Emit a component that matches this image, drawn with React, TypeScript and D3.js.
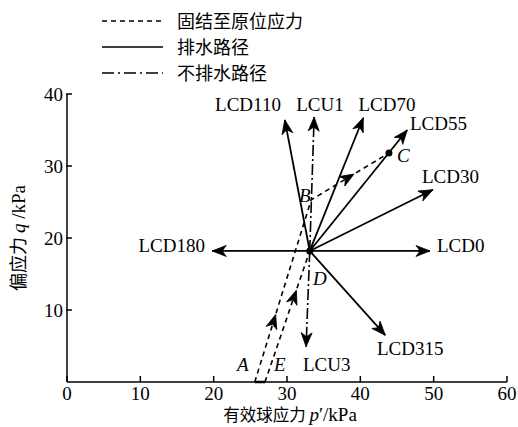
import * as d3 from "d3";

// stress state D, where the probing paths start
const startP = 33.1;
const startQ = 18.2;

// drained probing paths (solid)
const drainedNames = ["LCD0", "LCD30", "LCD55", "LCD70", "LCD110", "LCD180", "LCD315"];
const drainedEndP = [49.5, 49.9, 46.4, 40.4, 29.7, 19.8, 43.4];
const drainedEndQ = [18.2, 26.7, 35, 36.7, 36.4, 18.2, 6.5];

// undrained probing paths (dash-dot)
const undrainedNames = ["LCU1", "LCU3"];
const undrainedEndP = [33.7, 32.6];
const undrainedEndQ = [36.8, 4.9];

// consolidation to in-situ stress (dashed): A -> B -> C and E -> D
const consolABP = [25.6, 33.3, 43.9];
const consolABQ = [0, 25.3, 31.8];
const consolEDP = [27.0, 33.1];
const consolEDQ = [0, 18.2];

const xTicks = [0, 10, 20, 30, 40, 50, 60];
const yTicks = [10, 20, 30, 40];

const legendLabels = ["固结至原位应力", "排水路径", "不排水路径"];

const W = 518;
const H = 427;
const serif = "Liberation Serif, DejaVu Serif, serif";
const cjk = "Noto Sans CJK SC, sans-serif";

export default function App() {
  const x = d3.scaleLinear().domain([0, 60]).range([67, 507]);
  const y = d3.scaleLinear().domain([0, 40]).range([382, 94]);

  const dashed = "5,4";
  const dashDot = "11,3,2,3";

  const line = d3
    .line<[number, number]>()
    .x((d) => x(d[0]))
    .y((d) => y(d[1]));

  // arrowhead drawn at a point along a segment, pointing along it
  const head = (x0: number, y0: number, x1: number, y1: number, t = 1, key = "") => {
    const px = x0 + (x1 - x0) * t;
    const py = y0 + (y1 - y0) * t;
    const ang = (Math.atan2(y1 - y0, x1 - x0) * 180) / Math.PI;
    return (
      <path
        key={key}
        d="M0,0 L-14,-5.5 L-10,0 L-14,5.5 Z"
        fill="#000"
        stroke="#000"
        strokeWidth={0.8}
        transform={`translate(${px},${py}) rotate(${ang})`}
      />
    );
  };

  const drainedLabelPos: Record<string, [number, number, string]> = {
    LCD0: [437, 252, "start"],
    LCD30: [422, 183, "start"],
    LCD55: [410, 130, "start"],
    LCD70: [387, 111, "middle"],
    LCD110: [248, 111, "middle"],
    LCD180: [205, 252, "end"],
    LCD315: [377, 355, "start"],
  };
  const undrainedLabelPos: Record<string, [number, number, string]> = {
    LCU1: [320, 111, "middle"],
    LCU3: [303, 371, "start"],
  };

  const abPts = consolABP.map((p, i) => [p, consolABQ[i]] as [number, number]);
  const edPts = consolEDP.map((p, i) => [p, consolEDQ[i]] as [number, number]);

  const serifStyle = { fontFamily: serif, fontSize: 19 };

  return (
    <svg width={W} height={H} style={{ position: "absolute", left: 0, top: 0, background: "#fff" }}>
      {/* legend */}
      {legendLabels.map((lab, i) => {
        const ly = 21 + i * 26;
        const dash = i === 0 ? dashed : i === 2 ? "12,4,2,4" : undefined;
        return (
          <g key={lab}>
            <line x1={102} x2={163} y1={ly} y2={ly} stroke="#000" strokeWidth={1.6} strokeDasharray={dash} />
            <text x={177} y={ly + 6.5} style={{ fontFamily: cjk, fontSize: 18 }}>
              {lab}
            </text>
          </g>
        );
      })}

      {/* axes */}
      <g stroke="#000" strokeWidth={1.5} fill="none">
        <line x1={x(0)} x2={x(60)} y1={y(0)} y2={y(0)} />
        <line x1={x(0)} x2={x(0)} y1={y(0)} y2={y(40)} />
        {xTicks.map((t) => (
          <line key={t} x1={x(t)} x2={x(t)} y1={y(0)} y2={y(0) - 6} />
        ))}
        {yTicks.map((t) => (
          <line key={t} x1={x(0) - 1} x2={x(0) + 5} y1={y(t)} y2={y(t)} />
        ))}
      </g>
      {xTicks.map((t) => (
        <text key={t} x={x(t)} y={y(0) + 18} textAnchor="middle" style={serifStyle}>
          {t}
        </text>
      ))}
      {yTicks.map((t) => (
        <text key={t} x={x(0) - 4} y={y(t) + 6.5} textAnchor="end" style={serifStyle}>
          {t}
        </text>
      ))}
      <text x={290} y={421} textAnchor="middle" style={{ fontSize: 16.5 }}>
        <tspan style={{ fontFamily: cjk }}>有效球应力 </tspan>
        <tspan style={{ fontFamily: serif, fontStyle: "italic", fontSize: 19 }}>p</tspan>
        <tspan style={{ fontFamily: serif, fontSize: 19 }}>′/kPa</tspan>
      </text>
      <text transform={`translate(25,${y(20)}) rotate(-90)`} textAnchor="middle" style={{ fontSize: 18 }}>
        <tspan style={{ fontFamily: cjk }}>偏应力 </tspan>
        <tspan style={{ fontFamily: serif, fontStyle: "italic", fontSize: 19 }}>q</tspan>
        <tspan style={{ fontFamily: serif, fontSize: 19 }}> /kPa</tspan>
      </text>

      {/* consolidation paths */}
      <path d={line(abPts) ?? ""} fill="none" stroke="#000" strokeWidth={1.6} strokeDasharray={dashed} />
      <path d={line(edPts) ?? ""} fill="none" stroke="#000" strokeWidth={1.6} strokeDasharray={dashed} />
      <line x1={x(consolABP[0])} x2={x(consolEDP[0])} y1={y(0)} y2={y(0)} stroke="#000" strokeWidth={2.5} />
      {head(x(abPts[0][0]), y(abPts[0][1]), x(abPts[1][0]), y(abPts[1][1]), 0.37, "h1")}
      {head(x(abPts[1][0]), y(abPts[1][1]), x(abPts[2][0]), y(abPts[2][1]), 0.55, "h2")}
      {head(x(edPts[0][0]), y(edPts[0][1]), x(edPts[1][0]), y(edPts[1][1]), 0.7, "h3")}

      {/* drained paths */}
      {drainedNames.map((n, i) => {
        const x0 = x(startP);
        const y0 = y(startQ);
        const x1 = x(drainedEndP[i]);
        const y1 = y(drainedEndQ[i]);
        const [lx, ly, anchor] = drainedLabelPos[n];
        return (
          <g key={n}>
            <line x1={x0} y1={y0} x2={x1} y2={y1} stroke="#000" strokeWidth={1.8} />
            {head(x0, y0, x1, y1, 1)}
            <text x={lx} y={ly} textAnchor={anchor} style={serifStyle}>
              {n}
            </text>
          </g>
        );
      })}

      {/* undrained paths */}
      {undrainedNames.map((n, i) => {
        const x0 = x(startP);
        const y0 = y(startQ);
        const x1 = x(undrainedEndP[i]);
        const y1 = y(undrainedEndQ[i]);
        const [lx, ly, anchor] = undrainedLabelPos[n];
        return (
          <g key={n}>
            <line x1={x0} y1={y0} x2={x1} y2={y1} stroke="#000" strokeWidth={1.6} strokeDasharray={dashDot} />
            {head(x0, y0, x1, y1, 1)}
            <text x={lx} y={ly} textAnchor={anchor} style={serifStyle}>
              {n}
            </text>
          </g>
        );
      })}

      {/* state points */}
      <circle cx={x(startP)} cy={y(startQ)} r={3.5} fill="#000" />
      <circle cx={x(consolABP[2])} cy={y(consolABQ[2])} r={3.5} fill="#000" />
      <g style={{ fontFamily: serif, fontStyle: "italic", fontSize: 19 }}>
        <text x={397} y={162}>C</text>
        <text x={299} y={202}>B</text>
        <text x={313} y={285}>D</text>
        <text x={237} y={371}>A</text>
        <text x={274} y={371}>E</text>
      </g>
    </svg>
  );
}
